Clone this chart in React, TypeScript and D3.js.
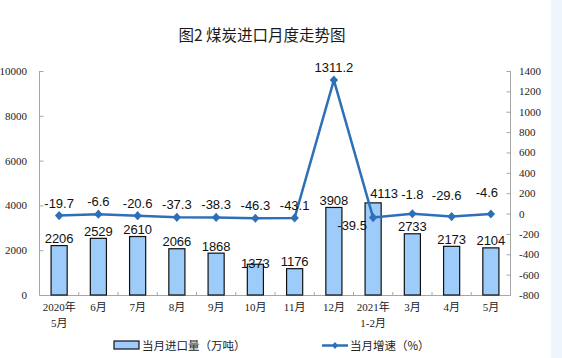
import React from "react";
import * as d3 from "d3";

const categories = ["2020年|5月", "6月", "7月", "8月", "9月", "10月", "11月", "12月", "2021年|1-2月", "3月", "4月", "5月"];
const volume = [2206, 2529, 2610, 2066, 1868, 1373, 1176, 3908, 4113, 2733, 2173, 2104];
const growth = [-19.7, -6.6, -20.6, -37.3, -38.3, -46.3, -43.1, 1311.2, -39.5, -1.8, -29.6, -4.6];
const leftTicks = [0, 2000, 4000, 6000, 8000, 10000];
const rightTicks = [-800, -600, -400, -200, 0, 200, 400, 600, 800, 1000, 1200, 1400];
const title = "图2\u00a0煤炭进口月度走势图";
const legendBar = "当月进口量（万吨）";
const legendLine = "当月增速（%）";

const W = 562, H = 358;
const X0 = 39.5, X1 = 510.5, YT = 71, YB = 295;
const LINE = "#2e70b8";
const BAR = "#9dcbfa";
const AXIS = "#a6a6a6";
const SERIF = "'Liberation Serif', 'Noto Sans CJK SC', serif";
const CJK = "'Noto Sans CJK SC', sans-serif";
const SANS = "'Liberation Sans', Arial, sans-serif";

// label offsets (dx, dy) for special cases
const lineLabelOff: Record<number, [number, number]> = { 8: [-21, 20], 9: [0, -7], 10: [-5, -9], 11: [-4, -9] };
const barLabelOff: Record<number, [number, number]> = { 5: [0, 6], 8: [11, -2] };

const diamond = "M0,-4.6L4.2,0L0,4.6L-4.2,0Z";

export default function App() {
  const x = d3.scaleBand<number>().domain(d3.range(categories.length)).range([X0, X1]).paddingInner(0.59).paddingOuter(0.295);
  const xc = d3.scaleBand<number>().domain(d3.range(categories.length)).range([X0, X1]);
  const yL = d3.scaleLinear().domain([0, 10000]).range([YB, YT]);
  const yR = d3.scaleLinear().domain([-800, 1400]).range([YB, YT]);
  const line = d3.line<number>().x((_, i) => xc(i)! + xc.bandwidth() / 2).y((d) => yR(d));

  return (
    <svg width={W} height={H} style={{ position: "absolute", left: 0, top: 0, background: "#fff" }}>
      <rect x={0} y={0} width={W} height={H} fill="#fff" />
      <rect x={551} y={0} width={11} height={H} fill="#eef5fc" />
      <text x={262} y={41} textAnchor="middle" fontFamily={CJK} fontSize={15.5} fill="#1a1a1a">{title}</text>

      {/* left axis */}
      <line x1={X0} x2={X0} y1={YT} y2={YB} stroke={AXIS} />
      {leftTicks.map((t) => (
        <g key={"l" + t}>
          <line x1={X0} x2={X0 + 4} y1={yL(t) + 0.5} y2={yL(t) + 0.5} stroke={AXIS} />
          <text x={27} y={yL(t) + 4} textAnchor="end" fontFamily={SERIF} fontSize={11} fill="#222">{t}</text>
        </g>
      ))}
      {/* right axis */}
      <line x1={X1} x2={X1} y1={YT} y2={YB} stroke={AXIS} />
      {rightTicks.map((t) => (
        <g key={"r" + t}>
          <line x1={X1 - 4} x2={X1} y1={yR(t) + 0.5} y2={yR(t) + 0.5} stroke={AXIS} />
          <text x={519} y={yR(t) + 4} textAnchor="start" fontFamily={SERIF} fontSize={11} fill="#222">{t}</text>
        </g>
      ))}
      {/* x axis */}
      <line x1={X0} x2={X1} y1={YB + 0.5} y2={YB + 0.5} stroke={AXIS} />
      {d3.range(1, categories.length).map((i) => (
        <line key={"xt" + i} x1={xc(i)!} x2={xc(i)!} y1={YB} y2={YB - 3} stroke={AXIS} />
      ))}
      {categories.map((c, i) => {
        const parts = c.split("|");
        const cx = xc(i)! + xc.bandwidth() / 2;
        return (
          <text key={"c" + i} textAnchor="middle" fontFamily={SERIF} fontSize={11} fill="#222">
            {parts.map((p, k) => (
              <tspan key={k} x={cx} y={311 + k * 16}>{p}</tspan>
            ))}
          </text>
        );
      })}

      {/* bars */}
      {volume.map((v, i) => (
        <rect key={"b" + i} x={x(i)!} y={yL(v)} width={x.bandwidth()} height={YB - yL(v)} fill={BAR} stroke="#111" strokeWidth={1.2} />
      ))}
      {volume.map((v, i) => {
        const o = barLabelOff[i] || [0, 0];
        return (
          <text key={"bl" + i} x={xc(i)! + xc.bandwidth() / 2 + o[0]} y={yL(v) - 2.5 + o[1]} textAnchor="middle" fontFamily={SANS} fontSize={13} fill="#111">{v}</text>
        );
      })}

      {/* line */}
      <path d={line(growth)!} fill="none" stroke={LINE} strokeWidth={2.5} strokeLinejoin="round" />
      {growth.map((g, i) => (
        <path key={"m" + i} d={diamond} transform={`translate(${xc(i)! + xc.bandwidth() / 2},${yR(g)})`} fill={LINE} />
      ))}
      {growth.map((g, i) => {
        const o = lineLabelOff[i] || [0, 0];
        return (
          <text key={"gl" + i} x={xc(i)! + xc.bandwidth() / 2 + o[0]} y={yR(g) - 8 + o[1]} textAnchor="middle" fontFamily={SANS} fontSize={13} fill="#111">{g}</text>
        );
      })}

      {/* legend */}
      <rect x={114} y={341} width={25} height={8} fill={BAR} stroke="#111" strokeWidth={1.2} />
      <text x={142} y={349.5} fontFamily={CJK} fontSize={11.5} fill="#222">{legendBar}</text>
      <line x1={322} x2={348} y1={345.5} y2={345.5} stroke={LINE} strokeWidth={2.5} />
      <path d={diamond} transform="translate(335,345.5) scale(0.75)" fill={LINE} />
      <text x={350} y={349.5} fontFamily={CJK} fontSize={11.5} fill="#222">{legendLine}</text>
    </svg>
  );
}
